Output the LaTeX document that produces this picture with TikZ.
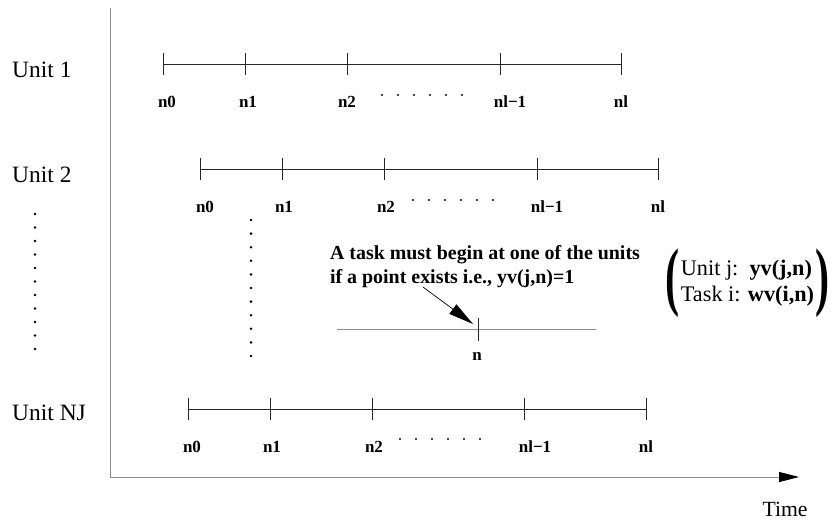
\documentclass[tikz,border=0pt]{standalone}
\usepackage{graphicx}
\usepackage{fontspec}
\setmainfont{Liberation Serif}
\usetikzlibrary{arrows.meta}

\begin{document}
\begin{tikzpicture}[x=0.03cm, y=-0.03cm,
  unitlab/.style={anchor=west, inner sep=0pt, font=\fontsize{20}{24}\selectfont},
  ptlab/.style={inner sep=0pt, font=\fontsize{14.5}{17}\selectfont\bfseries},
  tline/.style={line width=0.8pt, black!85},
  axis/.style={line width=0.8pt, black!45},
  note/.style={align=left, inner sep=0pt, font=\fontsize{17}{20.5}\selectfont\bfseries},
  paren/.style={inner sep=0pt, font=\fontsize{24}{24}\selectfont\bfseries}]
\useasboundingbox (0,0) rectangle (838,521);

% axes
\coordinate (top) at (110,8);
\coordinate (origin) at (110,477);
\coordinate (tend) at (799,477);
\draw[axis] (top) -- (origin);
\draw[axis, -{Triangle[length=0.6cm, width=0.3cm, fill=black, color=black]}] (origin) -- (tend);
\node[inner sep=0pt, font=\fontsize{18.5}{22}\selectfont] (time) at (785,509) {Time};

% unit 1
\node[unitlab] (unit1) at (12,70) {Unit 1};
\draw[tline] (163,64) coordinate (a0) -- (621,64) coordinate (a1);
\foreach \x/\lx/\t [count=\i] in {163/167/n0, 245/248/n1, 347/347/n2, 500/510/nl−1, 621/621/nl}{
  \draw[tline] (\x,53) -- (\x,75);
  \node[ptlab] (ua\i) at (\lx,102) {\t};
}
\foreach \x in {382,398,...,462} \fill (\x,95) circle (0.9pt);

% unit 2
\node[unitlab] (unit2) at (12,175) {Unit 2};
\draw[tline] (200,169) coordinate (b0) -- (658,169) coordinate (b1);
\foreach \x/\lx/\t [count=\i] in {200/205/n0, 282/284/n1, 384/386/n2, 537/547/nl−1, 658/658/nl}{
  \draw[tline] (\x,158) -- (\x,180);
  \node[ptlab] (ub\i) at (\lx,207) {\t};
}
\foreach \x in {413,429,...,493} \fill (\x,200) circle (0.9pt);

% unit NJ
\node[unitlab] (unitnj) at (12,413) {Unit NJ};
\draw[tline] (188,409) coordinate (c0) -- (646,409) coordinate (c1);
\foreach \x/\lx/\t [count=\i] in {188/192/n0, 270/272/n1, 372/374/n2, 524/535/nl−1, 646/646/nl}{
  \draw[tline] (\x,398) -- (\x,420);
  \node[ptlab] (uc\i) at (\lx,447) {\t};
}
\foreach \x in {400,416,...,480} \fill (\x,439) circle (0.9pt);

% vertical dots
\foreach \k in {0,...,10}{
  \fill (35,214+13.5*\k) circle (1.2pt);
  \fill (251,220+13.6*\k) circle (1.2pt);
}

% task point n
\draw[axis, line width=0.6pt] (337,329) -- (596,329);
\draw[tline] (478,318) -- (478,341);
\coordinate (tip) at (473,324);
\node[ptlab] (pn) at (477,356) {n};
\node[note] (task) at (485,267)
  {A task must begin at one of the units\\if a point exists i.e., yv(j,n)=1};
\coordinate (from) at (423,287);
\draw[line width=0.6pt, -{Triangle[length=0.75cm, width=0.35cm]}] (from) -- (tip);

% variables
\node[align=left, inner sep=0pt, font=\fontsize{19}{22.5}\selectfont] (vars) at (747.5,283)
  {Unit j:\ \ \textbf{yv(j,n)}\\Task i: \textbf{wv(i,n)}};
\node[paren, anchor=east] (lpar) at ([xshift=-1pt]vars.west) {\scalebox{1.5}[2.7]{(}};
\node[paren, anchor=west] (rpar) at ([xshift=1pt]vars.east) {\scalebox{1.5}[2.7]{)}};
\end{tikzpicture}
\end{document}
